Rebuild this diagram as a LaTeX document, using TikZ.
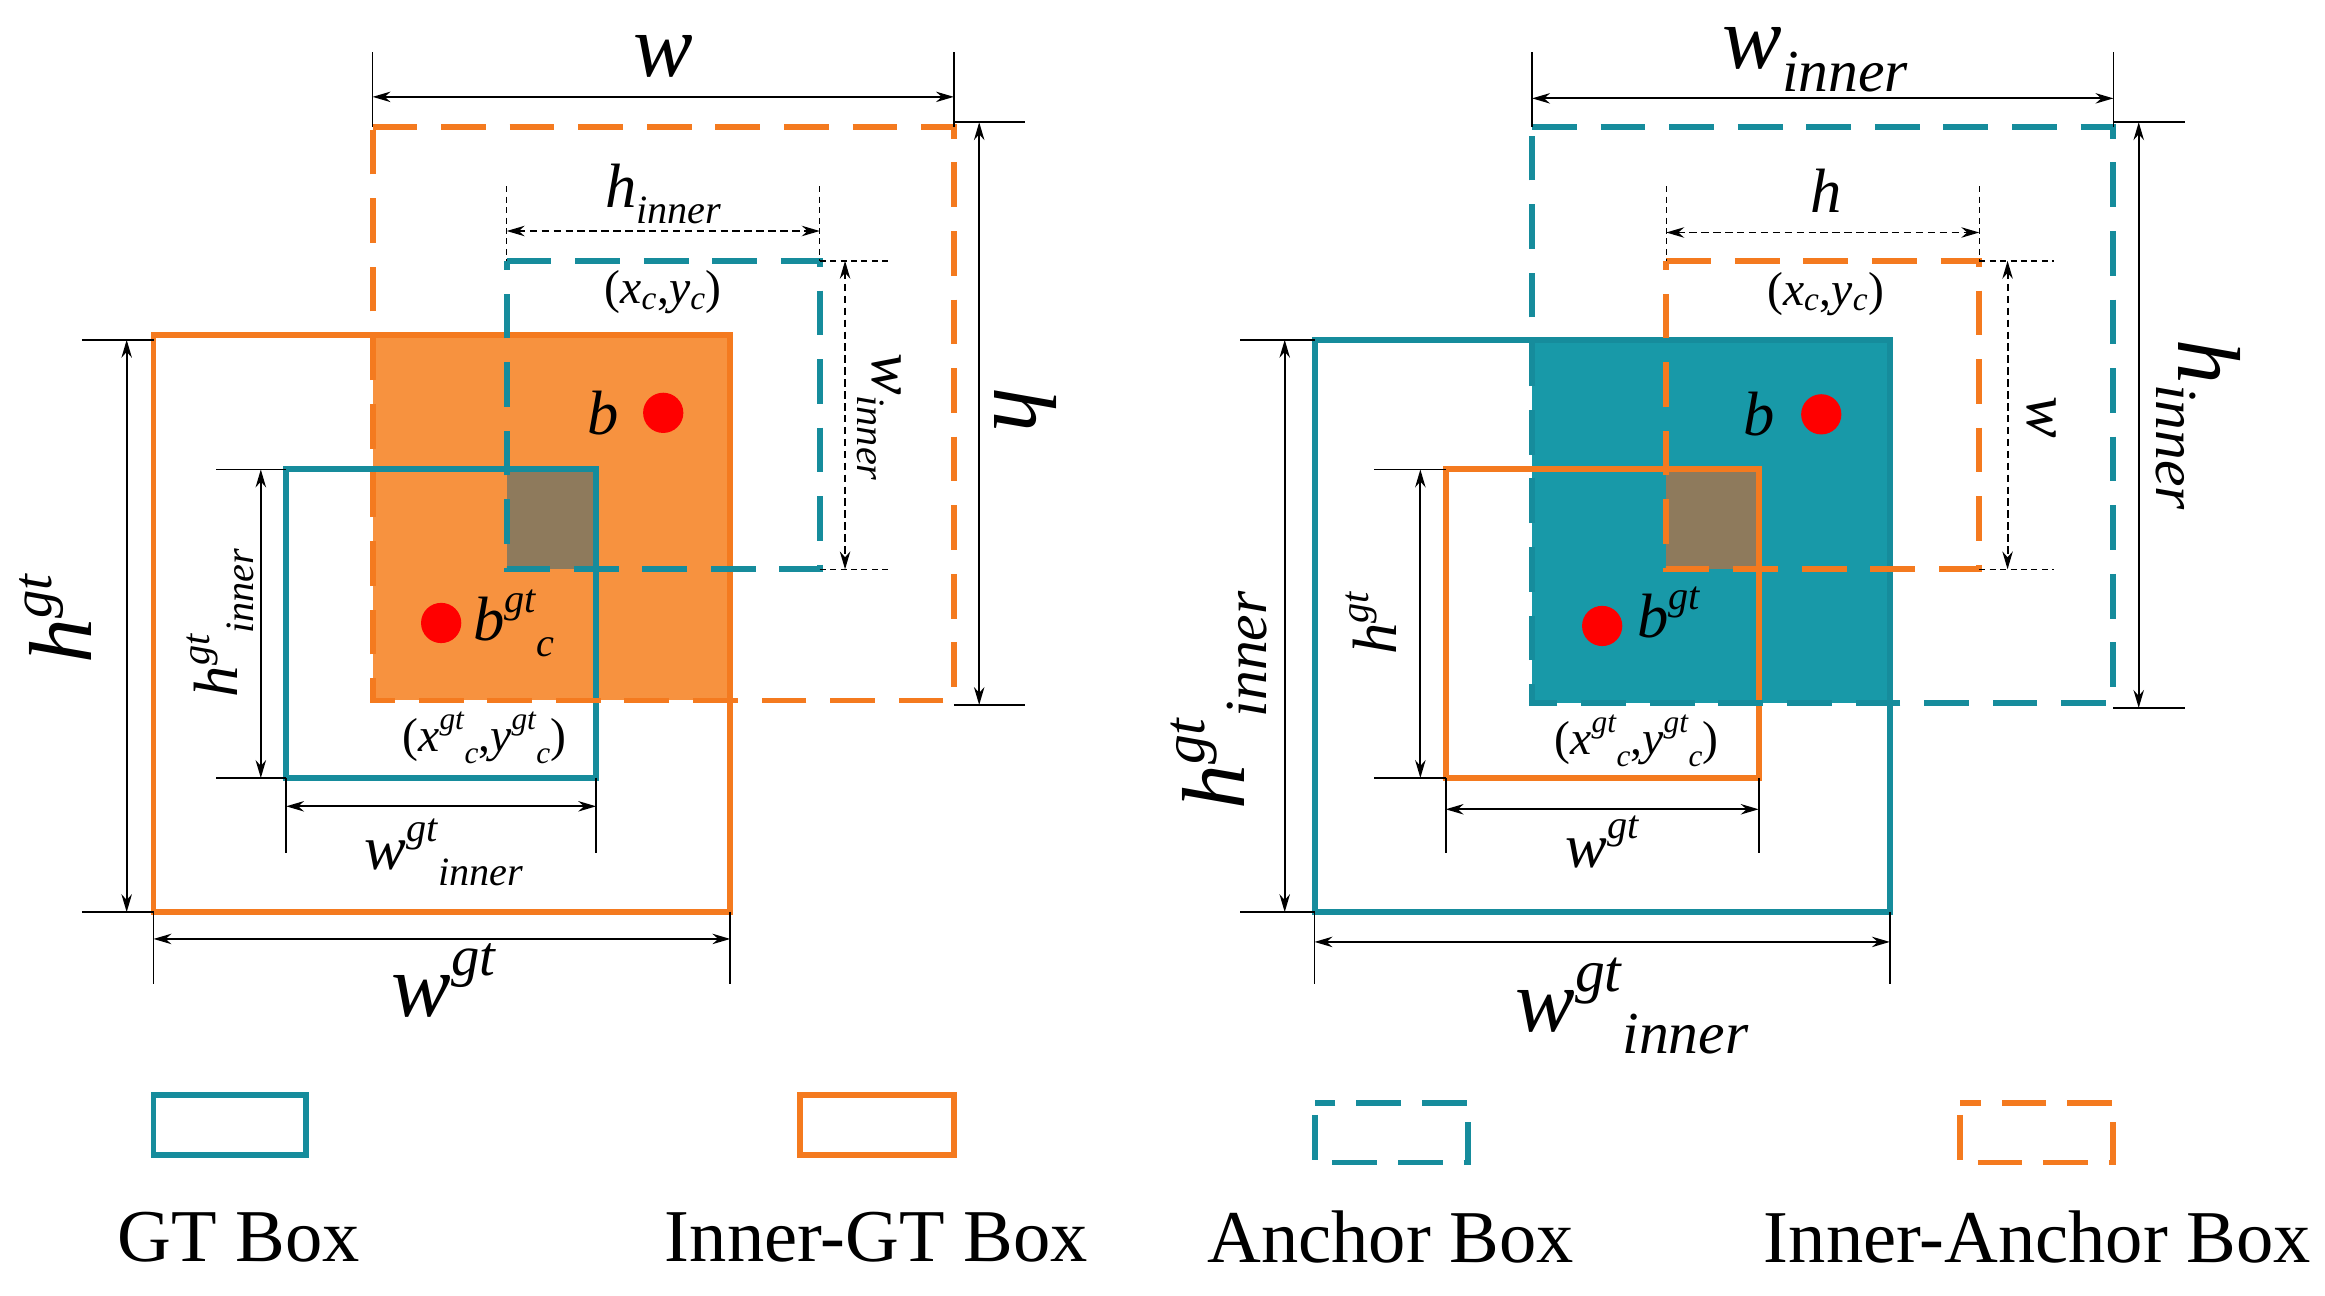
\documentclass[tikz,border=0pt]{standalone}
\usepackage{fontspec}
\setmainfont{Liberation Serif}
\usetikzlibrary{arrows.meta}
\definecolor{org}{HTML}{F47A1F}
\definecolor{orgf}{HTML}{F7923F}
\definecolor{tea}{HTML}{168C9C}
\definecolor{teaf}{HTML}{1899A8}
\definecolor{brn}{HTML}{8E7A5C}
\newcommand{\bx}[4]{\textit{#1}\raisebox{0.45em}{\fontsize{#4}{1}\selectfont\textit{#2}}\raisebox{-0.25em}{\fontsize{#4}{1}\selectfont\textit{#3}}}
\tikzset{
  solidb/.style={line width=4pt},
  dashb/.style={line width=4pt,dash pattern=on 30pt off 16pt},
  dim/.style={line width=1.3pt,{Stealth[length=12pt,width=7pt]}-{Stealth[length=12pt,width=7pt]}},
  ddim/.style={dim,dash pattern=on 5pt off 3pt},
  ext/.style={line width=1.2pt},
  dext/.style={line width=1pt,dash pattern=on 4pt off 3pt},
  dot/.style={circle,fill=red,minimum size=27pt,inner sep=0pt},
  big/.style={font=\fontsize{60}{60}\selectfont},
  mid/.style={font=\fontsize{42}{42}\selectfont},
  sml/.style={font=\fontsize{32}{32}\selectfont},
  leg/.style={font=\fontsize{50}{50}\selectfont}
}
\begin{document}
\begin{tikzpicture}[x=1pt,y=-1pt]
\useasboundingbox (0,0) rectangle (1560,869);
% ===== LEFT =====
\fill[orgf] (250,225) rectangle (490,470);
\fill[brn] (340,315) rectangle (400,382);
\draw[org,solidb] (103,225) rectangle (490,612);
\draw[tea,solidb] (192,315) rectangle (400,522);
\draw[tea,dashb] (340,175) -- (550,175) -- (550,382) -- (340,382) -- cycle;
\draw[org,dashb] (250,85) -- (640,85) -- (640,470) -- (250,470) -- cycle;
\draw[ext] (250,35) -- (250,85) (640,35) -- (640,85);
\draw[dim] (250,65) -- (640,65);
\node[big] (lw) at (445,38) {\textit{w}};
\draw[ext] (640,82) -- (688,82) (640,473) -- (688,473);
\draw[dim] (657,82) -- (657,473);
\node[big,rotate=-90] (lh) at (688,275) {\textit{h}};
\draw[dext] (340,125) -- (340,175) (550,125) -- (550,175);
\draw[ddim] (340,155) -- (550,155);
\node[mid] (lhi) at (445,130) {\bx{h}{}{inner}{27}};
\draw[dext] (550,175) -- (598,175) (550,382) -- (598,382);
\draw[ddim] (567,175) -- (567,382);
\node[mid,rotate=-90] (lwi) at (590,280) {\bx{w}{}{inner}{27}};
\node[sml] (lxc) at (445,196) {(\textit{x\textsubscript{c}},\textit{y\textsubscript{c}})};
\node[dot] (lb) at (445,277) {};
\node[mid] (lbl) at (405,277) {\textit{b}};
\node[dot] (lbg) at (296,418) {};
\node[mid] (lbgl) at (345,418) {\bx{b}{gt}{c}{27}};
\node[sml] (lxg) at (325,495) {(\bx{x}{gt}{c}{21},\bx{y}{gt}{c}{21})};
\draw[ext] (145,315) -- (192,315) (145,522) -- (192,522);
\draw[dim] (175,315) -- (175,522);
\node[mid,rotate=90] (lhgi) at (148,418) {\bx{h}{gt}{inner}{27}};
\draw[ext] (192,522) -- (192,572) (400,522) -- (400,572);
\draw[dim] (192,541) -- (400,541);
\node[mid] (lwgi) at (298,572) {\bx{w}{gt}{inner}{27}};
\draw[ext] (55,228) -- (103,228) (55,612) -- (103,612);
\draw[dim] (85,228) -- (85,612);
\node[big,rotate=90] (lhg) at (45,415) {\bx{h}{gt}{}{38}};
\draw[ext] (103,612) -- (103,660) (490,612) -- (490,660);
\draw[dim] (103,630) -- (490,630);
\node[big] (lwg) at (298,665) {\bx{w}{gt}{}{38}};
% ===== RIGHT =====
\fill[teaf] (1028,228) rectangle (1268,472);
\fill[brn] (1118,315) rectangle (1180,382);
\draw[tea,solidb] (882,228) rectangle (1268,612);
\draw[org,solidb] (970,315) rectangle (1180,522);
\draw[org,dashb] (1118,175) -- (1328,175) -- (1328,382) -- (1118,382) -- cycle;
\draw[tea,dashb] (1028,85) -- (1418,85) -- (1418,472) -- (1028,472) -- cycle;
\draw[ext] (1028,35) -- (1028,85) (1418,35) -- (1418,85);
\draw[dim] (1028,66) -- (1418,66);
\node[big] (rwi) at (1218,40) {\bx{w}{}{inner}{40}};
\draw[ext] (1418,82) -- (1466,82) (1418,475) -- (1466,475);
\draw[dim] (1435,82) -- (1435,475);
\node[big,rotate=-90] (rhi) at (1475,285) {\bx{h}{}{inner}{40}};
\draw[dext] (1118,125) -- (1118,175) (1328,125) -- (1328,175);
\draw[ddim] (1118,156) -- (1328,156);
\node[mid] (rh) at (1225,128) {\textit{h}};
\draw[dext] (1328,175) -- (1378,175) (1328,382) -- (1378,382);
\draw[ddim] (1347,175) -- (1347,382);
\node[mid,rotate=-90] (rw) at (1370,280) {\textit{w}};
\node[sml] (rxc) at (1225,197) {(\textit{x\textsubscript{c}},\textit{y\textsubscript{c}})};
\node[dot] (rb) at (1222,278) {};
\node[mid] (rbl) at (1180,278) {\textit{b}};
\node[dot] (rbg) at (1075,420) {};
\node[mid] (rbgl) at (1120,416) {\bx{b}{gt}{}{27}};
\node[sml] (rxg) at (1098,497) {(\bx{x}{gt}{c}{21},\bx{y}{gt}{c}{21})};
\draw[ext] (922,315) -- (970,315) (922,522) -- (970,522);
\draw[dim] (953,315) -- (953,522);
\node[mid,rotate=90] (rhg) at (925,418) {\bx{h}{gt}{}{27}};
\draw[ext] (970,522) -- (970,572) (1180,522) -- (1180,572);
\draw[dim] (970,543) -- (1180,543);
\node[mid] (rwg) at (1075,570) {\bx{w}{gt}{}{27}};
\draw[ext] (832,228) -- (882,228) (832,612) -- (882,612);
\draw[dim] (862,228) -- (862,612);
\node[big,rotate=90] (rhgi) at (818,470) {\bx{h}{gt}{inner}{40}};
\draw[ext] (882,612) -- (882,660) (1268,612) -- (1268,660);
\draw[dim] (882,632) -- (1268,632);
\node[big] (rwgi) at (1095,675) {\bx{w}{gt}{inner}{40}};
% ===== LEGEND =====
\draw[tea,solidb] (103,735) rectangle (205,775);
\draw[org,solidb] (537,735) rectangle (640,775);
\draw[tea,line width=4pt,dash pattern=on 30pt off 14pt,dash phase=-8pt] (882,740) rectangle (985,780);
\draw[org,line width=4pt,dash pattern=on 30pt off 14pt,dash phase=-8pt] (1315,740) rectangle (1418,780);
\node[leg] (g1) at (160,830) {GT Box};
\node[leg] (g2) at (588,830) {Inner-GT Box};
\node[leg] (g3) at (933,830) {Anchor Box};
\node[leg] (g4) at (1367,830) {Inner-Anchor Box};
\end{tikzpicture}
\end{document}
